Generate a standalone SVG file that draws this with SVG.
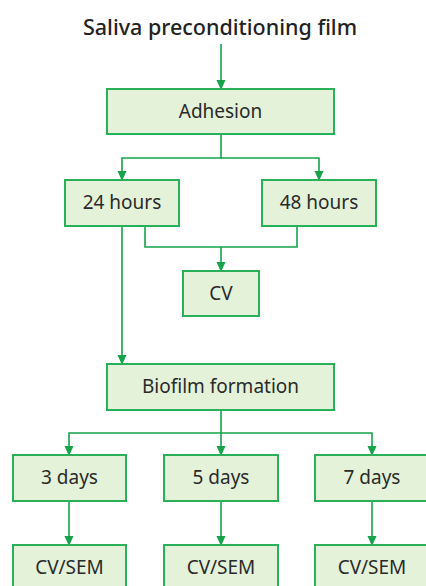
<svg xmlns="http://www.w3.org/2000/svg" width="426" height="586" viewBox="0 0 426 586">
<style>
.box{fill:#e4f2da;stroke:#2bb05a;stroke-width:2}
.t{font-family:"Noto Sans","Open Sans",sans-serif;font-size:19px;fill:#2a2a2a;text-anchor:middle}
.title{font-family:"Noto Sans","Open Sans",sans-serif;font-size:21.5px;font-weight:500;fill:#222;text-anchor:middle}
.c{fill:none;stroke:#16a34a;stroke-width:1.6}
</style>
<defs>
<marker id="ah" markerWidth="10" markerHeight="10" refX="9" refY="5" orient="auto" markerUnits="userSpaceOnUse">
<path d="M0,0.5 L10,5 L0,9.5 Z" fill="#16a34a"/>
</marker>
</defs>
<text class="title" x="220" y="35">Saliva preconditioning film</text>
<g id="connectors">
<path class="c" d="M221,44 V89" marker-end="url(#ah)"/>
<path class="c" d="M221,134 V158 H122 V180" marker-end="url(#ah)"/>
<path class="c" d="M221,158 H319 V180" marker-end="url(#ah)"/>
<path class="c" d="M145,226 V247 H297 V226"/>
<path class="c" d="M221,247 V271" marker-end="url(#ah)"/>
<path class="c" d="M122,226 V364" marker-end="url(#ah)"/>
<path class="c" d="M221,410 V433 H69 V455" marker-end="url(#ah)"/>
<path class="c" d="M221,433 V455" marker-end="url(#ah)"/>
<path class="c" d="M221,433 H372 V455" marker-end="url(#ah)"/>
<path class="c" d="M69,501 V545" marker-end="url(#ah)"/>
<path class="c" d="M221,501 V545" marker-end="url(#ah)"/>
<path class="c" d="M372,501 V545" marker-end="url(#ah)"/>
</g>
<g id="adhesion"><rect class="box" x="107" y="89" width="227" height="45"/><text class="t" x="220.5" y="118">Adhesion</text></g>
<g id="h24"><rect class="box" x="65" y="180" width="114" height="46"/><text class="t" x="122" y="209">24 hours</text></g>
<g id="h48"><rect class="box" x="262" y="180" width="114" height="46"/><text class="t" x="319" y="209">48 hours</text></g>
<g id="cv"><rect class="box" x="183" y="271" width="76" height="45"/><text class="t" x="221" y="300">CV</text></g>
<g id="biofilm"><rect class="box" x="107" y="364" width="227" height="46"/><text class="t" x="220.5" y="393">Biofilm formation</text></g>
<g id="d3"><rect class="box" x="13" y="455" width="113" height="46"/><text class="t" x="69.5" y="484">3 days</text></g>
<g id="d5"><rect class="box" x="164" y="455" width="114" height="46"/><text class="t" x="221" y="484">5 days</text></g>
<g id="d7"><rect class="box" x="315" y="455" width="113" height="46"/><text class="t" x="372" y="484">7 days</text></g>
<g id="cs3"><rect class="box" x="13" y="545" width="113" height="50"/><text class="t" x="69.5" y="574">CV/SEM</text></g>
<g id="cs5"><rect class="box" x="164" y="545" width="114" height="50"/><text class="t" x="221" y="574">CV/SEM</text></g>
<g id="cs7"><rect class="box" x="315" y="545" width="113" height="50"/><text class="t" x="372" y="574">CV/SEM</text></g>
</svg>
